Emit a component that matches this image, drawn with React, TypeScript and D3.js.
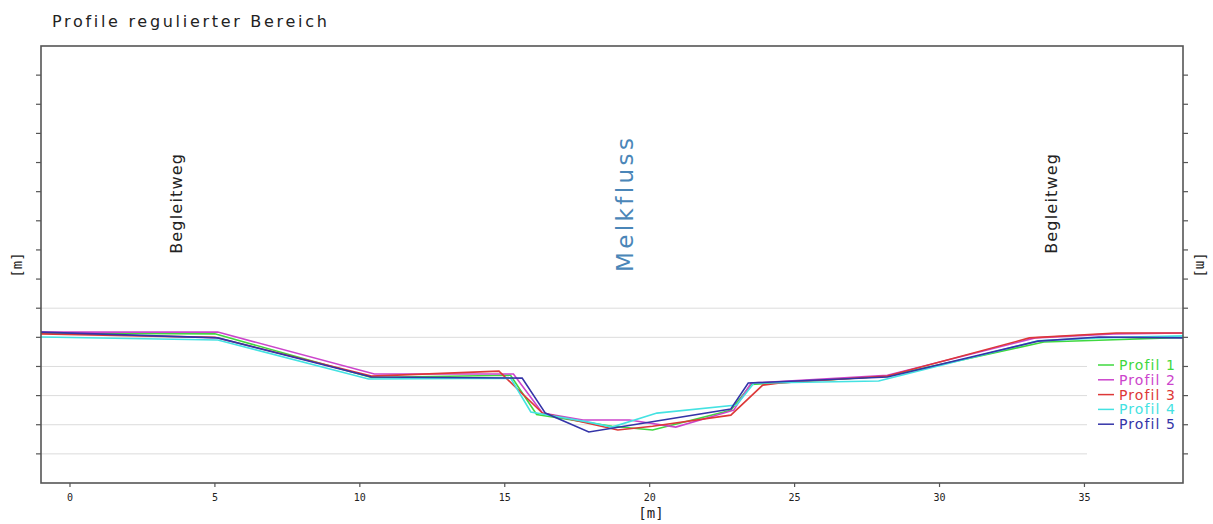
import React from "react";
import * as d3 from "d3";

const W = 1213;
const H = 524;

const title = "Profile regulierter Bereich";
const xTicks = [0, 5, 10, 15, 20, 25, 30, 35];
const yTicks = [1, 2, 3, 4, 5, 6, 7, 8, 9, 10, 11, 12, 13, 14];
const gridValues = [1, 2, 3, 4, 5, 6];
const profileNames = ["Profil 1", "Profil 2", "Profil 3", "Profil 4", "Profil 5"];
const profileColors = ["#3fd83f", "#cc44cc", "#dd3838", "#44e2e2", "#3434a8"];

const profil1: [number, number][] = [
  [-1, 5.15], [5.0, 5.12], [10.4, 3.62], [15.2, 3.7], [16.1, 2.35], [18.7, 1.95],
  [20.1, 1.82], [22.8, 2.5], [23.5, 3.38], [28.2, 3.67], [33.6, 4.84], [35.5, 4.9], [38.4, 5.0],
];
const profil2: [number, number][] = [
  [-1, 5.18], [5.1, 5.18], [10.5, 3.74], [15.3, 3.74], [16.3, 2.4], [17.7, 2.16], [19.3, 2.16],
  [20.9, 1.92], [22.9, 2.5], [23.5, 3.43], [28.2, 3.7], [33.3, 4.98], [36.0, 5.12], [38.4, 5.15],
];
const profil3: [number, number][] = [
  [-1, 5.12], [5.0, 5.0], [10.4, 3.67], [14.8, 3.84], [16.3, 2.4], [18.9, 1.82], [20.1, 1.95],
  [22.8, 2.33], [23.9, 3.36], [24.5, 3.43], [28.2, 3.67], [33.1, 4.98], [36.1, 5.15], [38.4, 5.15],
];
const profil4: [number, number][] = [
  [-1, 5.01], [5.1, 4.91], [10.3, 3.57], [15.2, 3.6], [15.9, 2.44], [17.9, 2.09], [18.7, 1.92],
  [20.25, 2.4], [23.0, 2.68], [23.6, 3.43], [27.9, 3.5], [33.4, 4.88], [35.5, 4.98], [38.4, 5.05],
];
const profil5: [number, number][] = [
  [-1, 5.18], [5.1, 4.98], [10.4, 3.64], [15.6, 3.6], [16.4, 2.4], [17.9, 1.75], [22.8, 2.54],
  [23.4, 3.43], [28.2, 3.64], [33.4, 4.87], [35.5, 5.01], [38.4, 4.98],
];
const profiles = [profil1, profil2, profil3, profil4, profil5];

const annotations = [
  { text: "Begleitweg", x: 3.7, y: 9.6, size: 16, spacing: 1.2, color: "#222" },
  { text: "Melkfluss", x: 19.2, y: 9.6, size: 23, spacing: 3.4, color: "#4a86b8" },
  { text: "Begleitweg", x: 33.9, y: 9.6, size: 16, spacing: 1.2, color: "#222" },
];

export default function App() {
  const left = 41, right = 1183, top = 46, bottom = 483;
  const x = d3.scaleLinear().domain([-1, 38.4]).range([left, right]);
  const y = d3.scaleLinear().domain([0, 15]).range([bottom, top]);
  const line = d3.line<[number, number]>().x((d) => x(d[0])).y((d) => y(d[1]));

  const font = "'DejaVu Sans', sans-serif";
  const mono = "'DejaVu Sans Mono', monospace";
  const legX = 1087;
  const legY0 = 365;
  const legDy = 14.8;

  return (
    <svg width={W} height={H} style={{ position: "absolute", left: 0, top: 0, background: "#fff" }}>
      <rect x={0} y={0} width={W} height={H} fill="#fff" />
      <text x={52} y={27} fontFamily={font} fontSize={16} letterSpacing={2.7} fill="#222">{title}</text>

      {gridValues.map((g) => (
        <line key={g} x1={left} x2={right} y1={y(g)} y2={y(g)} stroke="#dcdcdc" strokeWidth={1} />
      ))}

      {profiles.map((p, i) => (
        <path key={i} d={line(p) || ""} fill="none" stroke={profileColors[i]} strokeWidth={1.6} />
      ))}

      <rect x={legX} y={348} width={right - legX - 1} height={113} fill="#fff" />
      {profileNames.map((n, i) => (
        <g key={n}>
          <line x1={1098} x2={1114} y1={legY0 + i * legDy} y2={legY0 + i * legDy} stroke={profileColors[i]} strokeWidth={1.5} />
          <text x={1119} y={legY0 + i * legDy + 5} fontFamily={font} fontSize={14} letterSpacing={1.1} fill={profileColors[i]}>{n}</text>
        </g>
      ))}

      {annotations.map((a, i) => (
        <text key={i} transform={`translate(${x(a.x)},${y(a.y)}) rotate(-90)`} textAnchor="middle" dominantBaseline="middle"
          fontFamily={font} fontSize={a.size} letterSpacing={a.spacing} fill={a.color}>{a.text}</text>
      ))}

      <rect x={left} y={top} width={right - left} height={bottom - top} fill="none" stroke="#555" strokeWidth={1.6} />

      {yTicks.map((t) => (
        <g key={t}>
          <line x1={left - 5} x2={left} y1={y(t)} y2={y(t)} stroke="#555" strokeWidth={1.2} />
          <line x1={right} x2={right + 5} y1={y(t)} y2={y(t)} stroke="#555" strokeWidth={1.2} />
        </g>
      ))}
      {xTicks.map((t) => (
        <g key={t}>
          <line x1={x(t)} x2={x(t)} y1={bottom} y2={bottom + 4} stroke="#555" strokeWidth={1.2} />
          <text x={x(t)} y={501} textAnchor="middle" fontFamily={mono} fontSize={10} fill="#222">{t}</text>
        </g>
      ))}

      <text x={651} y={518} textAnchor="middle" fontFamily={mono} fontSize={14} fill="#222">[m]</text>
      <text transform={`translate(18,265) rotate(-90)`} textAnchor="middle" dominantBaseline="middle" fontFamily={mono} fontSize={14} fill="#222">[m]</text>
      <text transform={`translate(1200,265) rotate(90)`} textAnchor="middle" dominantBaseline="middle" fontFamily={mono} fontSize={14} fill="#222">[m]</text>
    </svg>
  );
}
